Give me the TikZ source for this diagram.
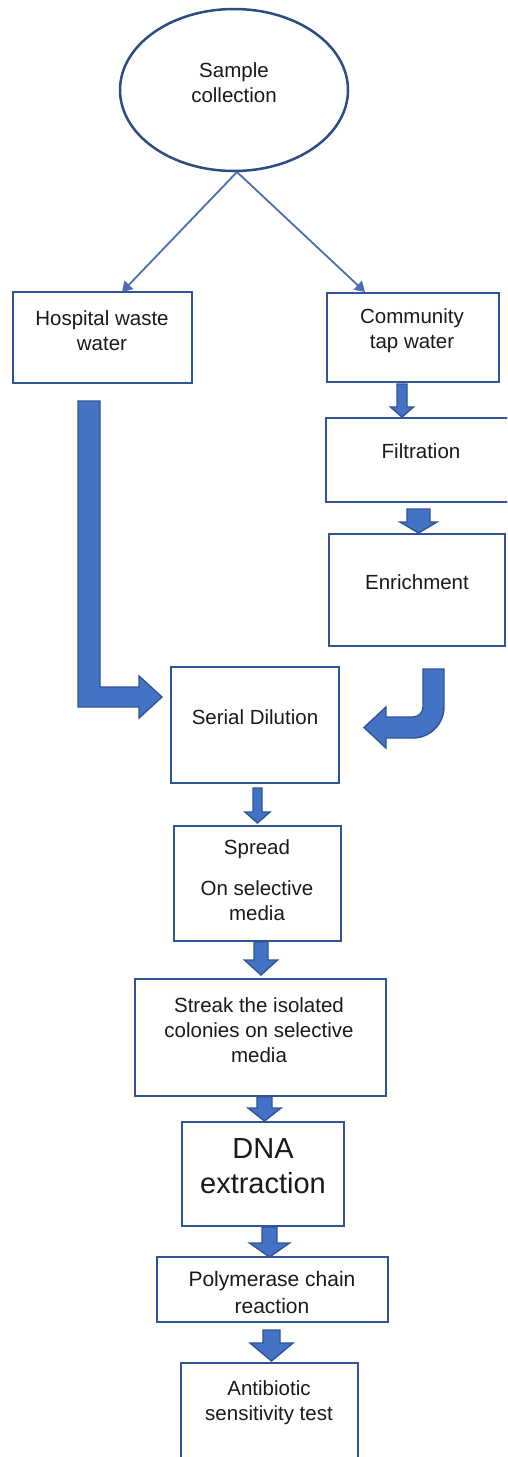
\documentclass[tikz,border=0pt]{standalone}
\usepackage{fontspec}
\setmainfont{Liberation Sans}
\usetikzlibrary{shapes.geometric,arrows.meta}
\definecolor{boxblue}{HTML}{2F5597}
\definecolor{ovalblue}{HTML}{2C4C86}
\definecolor{fillblue}{HTML}{4472C4}
\definecolor{lineblue}{HTML}{4A6EB0}
\definecolor{txtc}{HTML}{1A1A1A}
\tikzset{
  box/.style={draw=boxblue, line width=2.5pt, rectangle, inner sep=0pt, fill=white},
  oval/.style={draw=ovalblue, line width=2.5pt, ellipse, inner sep=0pt},
  txt/.style={align=center, inner sep=0pt, text=txtc, font=\fontsize{20.5}{25}\selectfont},
  thinarrow/.style={draw=lineblue, line width=1.8pt, -{Triangle[length=10pt,width=12pt]}},
  blockarrow/.style={fill=fillblue, draw=boxblue, line width=1.4pt, line join=miter}
}
\newcommand{\blockdown}[6]{% cx, half shaft, ytop, half head, yhead, ytip
  \path[blockarrow] (#1-#2,#3) -- (#1+#2,#3) -- (#1+#2,#5) -- (#1+#4,#5) -- (#1,#6) -- (#1-#4,#5) -- (#1-#2,#5) -- cycle;}
\begin{document}
\begin{tikzpicture}[x=1pt,y=-1pt]
\clip (0,0) rectangle (507,1457);
\fill[white] (0,0) rectangle (507,1457);

% boxes
\node[oval, minimum width=228pt, minimum height=162pt] (sample) at (234,90) {};
\node[box, minimum width=179pt, minimum height=91pt] (hosp) at (102.5,337.5) {};
\node[box, minimum width=172pt, minimum height=89pt] (comm) at (413,337.5) {};
\node[box, minimum width=186pt, minimum height=84pt] (filt) at (419,460) {};
\node[box, minimum width=176pt, minimum height=112pt] (enrich) at (417,590) {};
\node[box, minimum width=168pt, minimum height=116pt] (serial) at (255,725) {};
\node[box, minimum width=167pt, minimum height=115pt] (spread) at (257.5,883.5) {};
\node[box, minimum width=251pt, minimum height=117pt] (streak) at (260.5,1037.5) {};
\node[box, minimum width=162pt, minimum height=104pt] (dna) at (263,1174) {};
\node[box, minimum width=231pt, minimum height=65pt] (pcr) at (272.5,1289.5) {};
\node[box, minimum width=177pt, minimum height=120pt] (anti) at (269.5,1423) {};

% texts
\node[txt] (tsample) at (234,83) {Sample\\collection};
\node[txt] (thosp) at (102,331) {Hospital waste\\water};
\node[txt] (tcomm) at (412,331) {Community\\tap water};
\node[txt] (tfilt) at (421,451) {Filtration};
\node[txt] (tenrich) at (417,582) {Enrichment};
\node[txt] (tserial) at (255,717) {Serial Dilution};
\node[txt] (tspread) at (257,880) {Spread\\[16pt]On selective\\media};
\node[txt] (tstreak) at (259,1030) {Streak the isolated\\colonies on selective\\media};
\node[txt, font=\fontsize{29}{35}\selectfont] (tdna) at (263,1166) {DNA\\extraction};
\node[txt, font=\fontsize{21}{27}\selectfont] (tpcr) at (272,1292.5) {Polymerase chain\\reaction};
\node[txt] (tanti) at (269,1402.5) {Antibiotic\\sensitivity test};

% thin connectors
\coordinate (split) at (237,172);
\coordinate (hospin) at (122,292);
\coordinate (commin) at (365,292);
\draw[thinarrow] (split) -- (hospin);
\draw[thinarrow] (split) -- (commin);

% L-shaped block arrow from hospital
\path[blockarrow] (78,401) -- (100,401) -- (100,687) -- (139,687) -- (139,676) -- (162,697) -- (139,718) -- (139,707) -- (78,707) -- cycle;

% U-turn block arrow from enrichment
\path[blockarrow] (423,669) -- (444,669) -- (444,707) .. controls (444,724) and (430,738) .. (413,738) -- (386,738) -- (386,748) -- (364,727.5) -- (386,707) -- (386,717) -- (413,717) .. controls (418.5,717) and (423,712.5) .. (423,707) -- cycle;

% down block arrows
\blockdown{402}{5}{384}{11.5}{407}{417}
\blockdown{418.5}{11.5}{509}{18.5}{522}{533}
\blockdown{257.5}{4.5}{788}{12.5}{812}{823}
\blockdown{261}{7}{942}{16.5}{960}{975}
\blockdown{264.5}{7.5}{1097}{16.5}{1108}{1121}
\blockdown{269.5}{7.5}{1227}{20}{1243}{1257}
\blockdown{271.5}{8.5}{1330}{21.5}{1343}{1361}
\end{tikzpicture}
\end{document}
